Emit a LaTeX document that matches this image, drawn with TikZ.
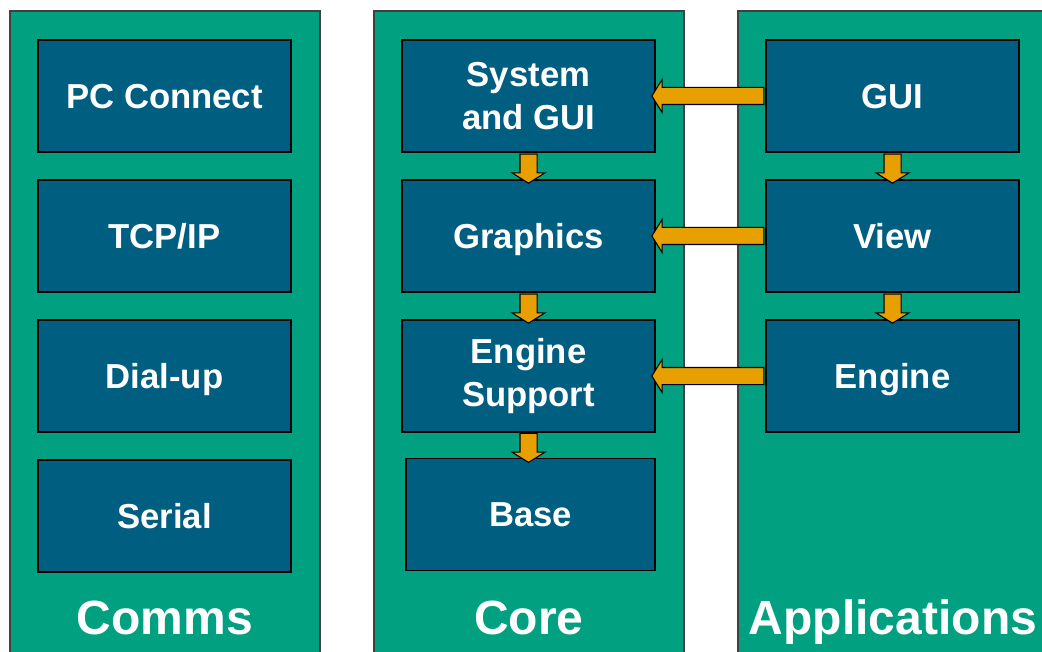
\documentclass[tikz,border=0pt]{standalone}
\usepackage{fontspec}
\setmainfont{Liberation Sans}
\usetikzlibrary{shapes.arrows}
\definecolor{panelgreen}{RGB}{0,160,128}
\definecolor{boxblue}{RGB}{0,95,128}
\definecolor{arroworange}{RGB}{232,160,0}
\tikzset{
    panel/.style={fill=panelgreen, draw=black!75, line width=1.5pt},
    layer/.style={fill=boxblue, draw=black, line width=0.9pt, minimum width=189.75pt, minimum height=84pt,
        inner sep=0pt, text=white, align=center, font=\bfseries\fontsize{26}{32}\selectfont},
    oneline/.style={layer, text height=20pt, text depth=1.4pt},
    title/.style={text=white, anchor=base, font=\bfseries\fontsize{36}{43}\selectfont},
    flow/.style={single arrow, fill=arroworange, draw=black, line width=0.8pt, inner sep=6pt,
        single arrow head extend=6pt, single arrow tip angle=116},
    hflow/.style={flow, shape border rotate=180, minimum height=84pt},
    vflow/.style={flow, shape border rotate=270, minimum height=21.75pt}
}
\begin{document}
\begin{tikzpicture}[x=0.75pt, y=-0.75pt]
    \useasboundingbox (0,0) rectangle (1042,652);
    \fill[white] (0,0) rectangle (1042,652);
    \clip (0,0) rectangle (1042,652);
    % draw the three green panels
    \draw[panel] (10,11) rectangle (320,670);
    \draw[panel] (374,11) rectangle (684,670);
    \draw[panel] (738,11) rectangle (1060,670);
    % comms layers
    \foreach \name/\txt [count=\i from 0] in {pc/PC Connect, tcp/{TCP/IP}, dial/Dial-up, serial/Serial} {
        \node[oneline] (\name) at (164.5,96+140*\i) {\txt};
    }
    % core layers
    \node[layer] (sysgui) at (528.5,96) {System\\and GUI};
    \node[oneline] (graphics) at (528.5,236) {Graphics};
    \node[layer] (support) at (528.5,376) {Engine\\Support};
    \node[oneline, minimum width=186.75pt] (base) at (530.5,514.5) {Base};
    % application layers
    \node[oneline] (gui) at (892.5,96) {GUI};
    \node[oneline] (view) at (892.5,236) {View};
    \node[oneline] (engine) at (892.5,376) {Engine};
    % arrows between layers
    \path (sysgui.south) -- node[vflow] {} (graphics.north);
    \path (graphics.south) -- node[vflow] {} (support.north);
    \path (support.south) -- node[vflow] {} (support.south |- base.north);
    \path (gui.south) -- node[vflow] {} (view.north);
    \path (view.south) -- node[vflow] {} (engine.north);
    \path (gui.west) -- node[hflow] {} (sysgui.east);
    \path (view.west) -- node[hflow] {} (graphics.east);
    \path (engine.west) -- node[hflow] {} (support.east);
    % panel titles
    \node[title] (comms) at (165,634) {Comms};
    \node[title] (core) at (529,634) {Core};
    \node[title] (apps) at (893,634) {Applications};
\end{tikzpicture}
\end{document}
